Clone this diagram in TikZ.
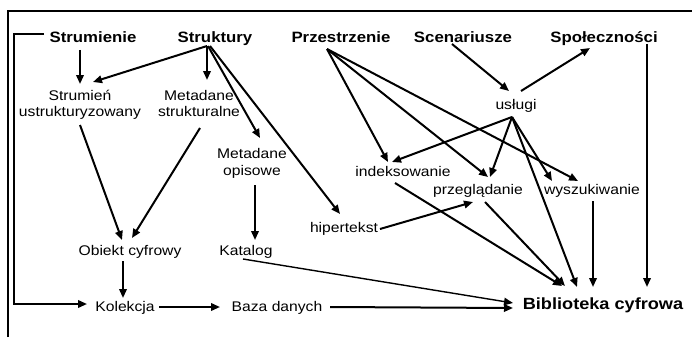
\documentclass[tikz,border=0pt]{standalone}
\usepackage{fontspec}
\usetikzlibrary{arrows.meta,calc}
\newfontfamily\lab{Liberation Sans}[FakeStretch=1.12]
\tikzset{
  lbl/.style={inner sep=0pt, anchor=base, align=center, font=\lab\fontsize{14}{16}\selectfont},
  head/.style={lbl, font=\lab\bfseries\fontsize{15}{18}\selectfont},
  arr/.style={line width=2pt, -{Triangle[length=9pt,width=7.5pt]}},
  thin arr/.style={arr, line width=1.4pt},
  frame/.style={line width=1.4pt}
}
\begin{document}
\begin{tikzpicture}[x=1pt,y=-1pt]
\useasboundingbox (0,0) rectangle (692,337);
\draw[frame] (8,337) -- (8,11) -- (692,11);

% top row
\node[head] (strm) at (93,42) {Strumienie};
\node[head] (strk) at (215,42) {Struktury};
\node[head] (prz)  at (341,43) {Przestrzenie};
\node[head] (scen) at (463,42) {Scenariusze};
\node[head] (spol) at (604,42) {Społeczności};

% content nodes (two-line nodes sit on the baseline of their last line)
\node[lbl] (strumien) at (80,116) {Strumień\\ustrukturyzowany};
\node[lbl] (metastr) at (199,116) {Metadane\\strukturalne};
\node[lbl] (metaop) at (252,175) {Metadane\\[1pt]opisowe};
\node[lbl] (obiekt) at (130,255) {Obiekt cyfrowy};
\node[lbl] (katalog) at (246,255) {Katalog};
\node[lbl] (hiper) at (344,232) {hipertekst};
\node[lbl] (uslugi) at (516,109) {usługi};
\node[lbl] (indeks) at (403,176) {indeksowanie};
\node[lbl] (przegl) at (478,194) {przeglądanie};
\node[lbl] (wysz) at (592,194) {wyszukiwanie};
\node[lbl] (kolek) at (125,311) {Kolekcja};
\node[lbl] (baza) at (277,311) {Baza danych};
\node[head, font=\lab\bfseries\fontsize{16.2}{19}\selectfont] (bibl) at (603,309) {Biblioteka cyfrowa};

% Strumienie / Struktury
\draw[arr] ($(strm.base)+(-13,8)$) -- ($(strumien.base)+(0,-32)$);
\draw[arr] ($(strk.base)+(-8,4)$) -- ($(strumien.base)+(13,-34)$);
\draw[arr] ($(strk.base)+(-8,4)$) -- ($(metastr.base)+(8,-36)$);
\draw[arr] ($(strk.base)+(-7,4)$) -- ($(metaop.base)+(8,-37)$);
\draw[arr] ($(strk.base)+(-5,4)$) -- ($(hiper.base)+(-4,-18)$);
\draw[arr] ($(strumien.base)+(0,9)$) -- ($(obiekt.base)+(-8,-15)$);
\draw[arr] ($(metastr.base)+(1,12)$) -- ($(obiekt.base)+(2,-17)$);
\draw[arr] ($(metaop.base)+(3,10)$) -- ($(katalog.base)+(9,-15)$);
\draw[arr] ($(obiekt.base)+(-7,6)$) -- ($(kolek.base)+(-2,-13)$);
\draw[arr] ($(strm.base)+(-49,-8)$) -- ++(-30,0) |- ($(kolek.base)+(-38,-7)$);

% bottom chain
\draw[arr] ($(kolek.base)+(34,-4)$) -- ($(baza.base)+(-57,-4)$);
\draw[arr] ($(baza.base)+(53,-4)$) -- ($(bibl.base)+(-90,-1)$);
\draw[thin arr] ($(katalog.base)+(-3,4)$) -- ($(bibl.base)+(-90,-6)$);
\draw[arr] ($(hiper.base)+(36,-3)$) -- ($(przegl.base)+(-5,8)$);

% Przestrzenie
\draw[arr] ($(prz.base)+(-14,6)$) -- ($(indeks.base)+(-15,-14)$);
\draw[arr] ($(prz.base)+(-14,6)$) -- ($(przegl.base)+(10,-17)$);
\draw[arr] ($(prz.base)+(-14,6)$) -- ($(wysz.base)+(-14,-13)$);

% Scenariusze, usługi, Społeczności
\draw[arr] ($(scen.base)+(-11,2)$) -- ($(uslugi.base)+(-7,-18)$);
\draw[arr] ($(uslugi.base)+(5,-18)$) -- ($(spol.base)+(-14,6)$);
\draw[arr] ($(uslugi.base)+(-4,8)$) -- ($(indeks.base)+(-11,-14)$);
\draw[arr] ($(uslugi.base)+(-4,8)$) -- ($(przegl.base)+(12,-17)$);
\draw[arr] ($(uslugi.base)+(-4,8)$) -- ($(wysz.base)+(-40,-13)$);
\draw[arr] ($(uslugi.base)+(-4,8)$) -- ($(bibl.base)+(-26,-22)$);

% into Biblioteka cyfrowa
\draw[arr] ($(indeks.base)+(-8,7)$) -- ($(bibl.base)+(-41,-23)$);
\draw[arr] ($(przegl.base)+(7,8)$) -- ($(bibl.base)+(-38,-23)$);
\draw[arr] ($(wysz.base)+(1,7)$) -- ($(bibl.base)+(-10,-22)$);
\draw[arr] ($(spol.base)+(43,2)$) -- ($(bibl.base)+(44,-22)$);
\end{tikzpicture}
\end{document}
